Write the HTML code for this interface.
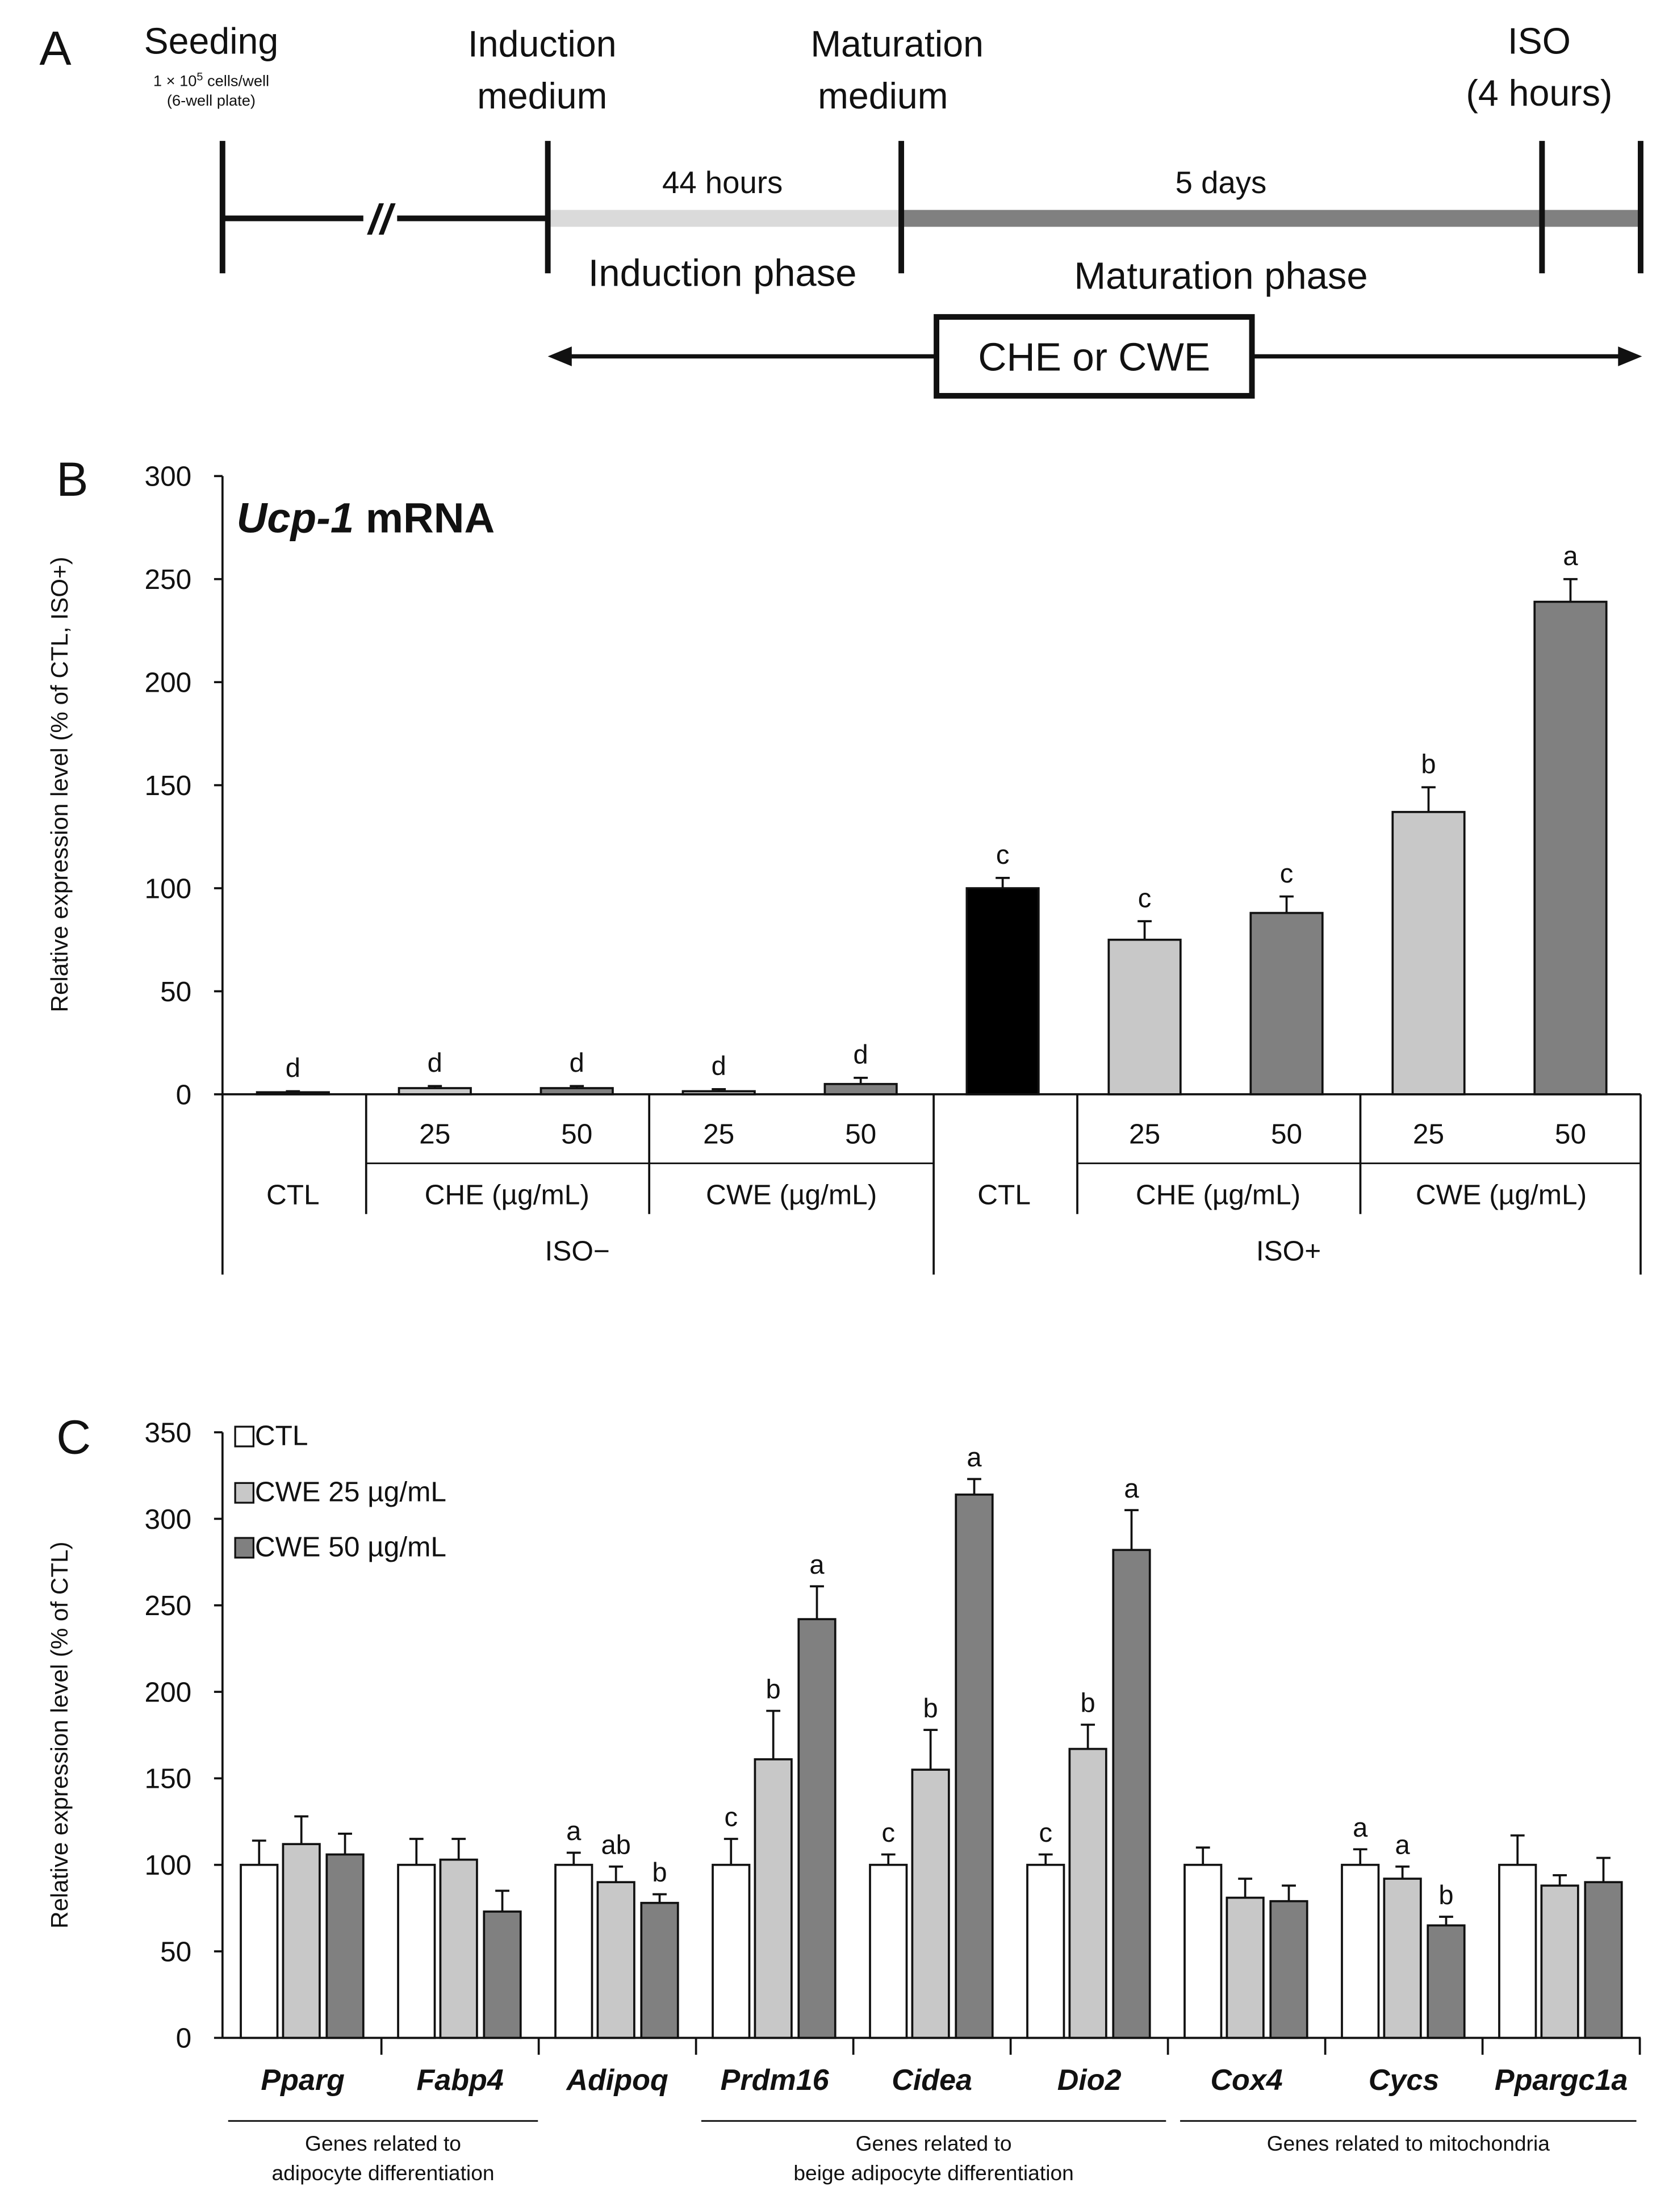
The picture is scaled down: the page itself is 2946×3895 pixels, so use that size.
<!DOCTYPE html>
<html><head><meta charset="utf-8"><style>
html,body{margin:0;padding:0;background:#fff}
svg{display:block;font-family:"Liberation Sans",sans-serif}
</style></head><body>
<svg id="fig" width="2946" height="3895" viewBox="0 0 1188 1570.6" xmlns="http://www.w3.org/2000/svg">
<g fill="#111">
<text x="28" y="46" font-size="34">A</text>
<text x="150" y="38" font-size="26" text-anchor="middle">Seeding</text>
<text x="150" y="61" font-size="11" text-anchor="middle">1 × 10<tspan dy="-4" font-size="8">5</tspan><tspan dy="4"> cells/well</tspan></text>
<text x="150" y="75" font-size="11" text-anchor="middle">(6-well plate)</text>
<text x="385" y="40" font-size="26" text-anchor="middle">Induction</text>
<text x="385" y="77" font-size="26" text-anchor="middle">medium</text>
<text x="637" y="40" font-size="26" text-anchor="middle">Maturation</text>
<text x="627" y="77" font-size="26" text-anchor="middle">medium</text>
<text x="1093" y="38" font-size="26" text-anchor="middle">ISO</text>
<text x="1093" y="75" font-size="26" text-anchor="middle">(4 hours)</text>
<line x1="158" y1="155" x2="389" y2="155" stroke="#111" stroke-width="4"/>
<rect x="258" y="140" width="24" height="30" fill="#fff"/>
<text x="270" y="166" font-size="30" font-style="italic" text-anchor="middle" font-weight="bold">//</text>
<line x1="389" y1="155" x2="640" y2="155" stroke="#dadada" stroke-width="12"/>
<line x1="640" y1="155" x2="1165" y2="155" stroke="#808080" stroke-width="12"/>
<g stroke="#111" stroke-width="4">
<line x1="158" y1="100" x2="158" y2="194"/><line x1="389" y1="100" x2="389" y2="194"/><line x1="640" y1="100" x2="640" y2="194"/><line x1="1095" y1="100" x2="1095" y2="194"/><line x1="1165" y1="100" x2="1165" y2="194"/></g>
<text x="513" y="137" font-size="22" text-anchor="middle">44 hours</text>
<text x="867" y="137" font-size="22" text-anchor="middle">5 days</text>
<text x="513" y="203" font-size="27" text-anchor="middle">Induction phase</text>
<text x="867" y="205" font-size="27" text-anchor="middle">Maturation phase</text>
<line x1="400" y1="253" x2="1155" y2="253" stroke="#111" stroke-width="3"/>
<polygon points="389,253 406,246 406,260"/>
<polygon points="1166,253 1149,246 1149,260"/>
<rect x="665" y="225" width="224" height="56" fill="#fff" stroke="#111" stroke-width="4"/>
<text x="777" y="263" font-size="28" text-anchor="middle">CHE or CWE</text>
</g>
<g id="pb"></g>
<g id="pc"></g>
</svg>
<script>
const bVals=[1,3,3,1.5,5,100,75,88,137,239];
const bErr=[0.5,1,1,1,3,5,9,8,12,11];
const bLetters=["d","d","d","d","d","c","c","c","b","a"];
const bTicks=[0,50,100,150,200,250,300];
const cGenes=["Pparg","Fabp4","Adipoq","Prdm16","Cidea","Dio2","Cox4","Cycs","Ppargc1a"];
const cCTL=[100,100,100,100,100,100,100,100,100];
const cCWE25=[112,103,90,161,155,167,81,92,88];
const cCWE50=[106,73,78,242,314,282,79,65,90];
const cErrCTL=[14,15,7,15,6,6,10,9,17];
const cErr25=[16,12,9,28,23,14,11,7,6];
const cErr50=[12,12,5,19,9,23,9,5,14];
const cLetCTL=["","","a","c","c","c","","a",""];
const cLet25=["","","ab","b","b","b","","a",""];
const cLet50=["","","b","a","a","a","","b",""];
const cTicks=[0,50,100,150,200,250,300,350];
const NS="http://www.w3.org/2000/svg";
function mk(p,t,a){const e=document.createElementNS(NS,t);for(const k in a)e.setAttribute(k,a[k]);p.appendChild(e);return e;}
function txt(p,x,y,s,size,extra){const e=mk(p,"text",Object.assign({x:x,y:y,"font-size":size,"text-anchor":"middle",fill:"#111"},extra||{}));e.textContent=s;return e;}
// Panel B
const pb=document.getElementById("pb");
const yB=v=>777-v*(439/300);
const bX=i=>208+i*100.8;
const bColors=["#fff","#c8c8c8","#808080","#c8c8c8","#808080","#000","#c8c8c8","#808080","#c8c8c8","#808080"];
let t=txt(pb,40,352,"B",34,{"text-anchor":"start"});


t=mk(pb,"text",{x:168,y:378,"font-size":30,"font-weight":"bold",fill:"#111"});t.innerHTML='<tspan font-style="italic">Ucp-1</tspan> mRNA';


t=txt(pb,0,0,"Relative expression level (% of CTL, ISO+)",17,{transform:"translate(48,557) rotate(-90)"});


let ax=mk(pb,"line",{x1:158,y1:yB(0),x2:158,y2:yB(300),stroke:"#111","stroke-width":1.5});


bTicks.forEach(v=>{const l=mk(pb,"line",{x1:152,x2:158,y1:yB(v),y2:yB(v),stroke:"#111","stroke-width":1.5});


const tt=txt(pb,136,yB(v)+7,String(v),20,{"text-anchor":"end"});

});
bVals.forEach((v,i)=>{const x=bX(i),w=51;
const e=mk(pb,"line",{x1:x,x2:x,y1:yB(v),y2:yB(v+bErr[i]),stroke:"#111","stroke-width":1.5});


const c=mk(pb,"line",{x1:x-5,x2:x+5,y1:yB(v+bErr[i]),y2:yB(v+bErr[i]),stroke:"#111","stroke-width":1.5});


const r=mk(pb,"rect",{x:x-w/2,y:yB(v),width:w,height:yB(0)-yB(v),fill:bColors[i],stroke:"#111","stroke-width":1.5});


const l=txt(pb,x,yB(v+bErr[i])-10,bLetters[i],19);

});
const xa=mk(pb,"line",{x1:158,x2:1165,y1:777,y2:777,stroke:"#111","stroke-width":1.5});


[158,260,461,663,765,966,1165].forEach(x=>{const big=(x==158||x==663||x==1165);const l=mk(pb,"line",{x1:x,x2:x,y1:777,y2:big?905:862,stroke:"#111","stroke-width":1.5});

});
[[260,461],[765,966],[966,1165],[461,663]].forEach(s=>{const l=mk(pb,"line",{x1:s[0],x2:s[1],y1:826,y2:826,stroke:"#111","stroke-width":1.2});

});
[[1,"25"],[2,"50"],[3,"25"],[4,"50"],[6,"25"],[7,"50"],[8,"25"],[9,"50"]].forEach(d=>{const tt=txt(pb,bX(d[0]),812,d[1],20);

});
[[208,"CTL"],[360,"CHE (µg/mL)"],[562,"CWE (µg/mL)"],[713,"CTL"],[865,"CHE (µg/mL)"],[1066,"CWE (µg/mL)"]].forEach(d=>{const tt=txt(pb,d[0],855,d[1],20);

});
[[410,"ISO−"],[915,"ISO+"]].forEach(d=>{const tt=txt(pb,d[0],895,d[1],20);

});
// Panel C
const pc=document.getElementById("pc");
const yC=v=>1447-v*(430/350);
const gX=i=>215+i*111.7;
t=txt(pc,40,1032,"C",34,{"text-anchor":"start"});


t=txt(pc,0,0,"Relative expression level (% of CTL)",17,{transform:"translate(48,1232) rotate(-90)"});


ax=mk(pc,"line",{x1:158,y1:yC(0),x2:158,y2:yC(350),stroke:"#111","stroke-width":1.5});


cTicks.forEach(v=>{const l=mk(pc,"line",{x1:152,x2:158,y1:yC(v),y2:yC(v),stroke:"#111","stroke-width":1.5});


const tt=txt(pc,136,yC(v)+7,String(v),20,{"text-anchor":"end"});

});
const series=[[cCTL,cErrCTL,cLetCTL,"#fff",-31],[cCWE25,cErr25,cLet25,"#c8c8c8",-1],[cCWE50,cErr50,cLet50,"#808080",30]];
cGenes.forEach((g,i)=>{series.forEach((s,k)=>{const x=gX(i)+s[4],v=s[0][i],er=s[1][i],w=26;
const e=mk(pc,"line",{x1:x,x2:x,y1:yC(v),y2:yC(v+er),stroke:"#111","stroke-width":1.5});


const c=mk(pc,"line",{x1:x-5,x2:x+5,y1:yC(v+er),y2:yC(v+er),stroke:"#111","stroke-width":1.5});


const r=mk(pc,"rect",{x:x-w/2,y:yC(v),width:w,height:yC(0)-yC(v),fill:s[3],stroke:"#111","stroke-width":1.5});


if(s[2][i]){const l=txt(pc,x,yC(v+er)-9,s[2][i],19);

}});
const lab=txt(pc,gX(i),1484,g,21,{"font-weight":"bold","font-style":"italic"});


const tk=mk(pc,"line",{x1:gX(i)+55.85,x2:gX(i)+55.85,y1:1447,y2:1459,stroke:"#111","stroke-width":1.5});

});
const xc=mk(pc,"line",{x1:158,x2:1165,y1:1447,y2:1447,stroke:"#111","stroke-width":1.5});


[[162,382,"Genes related to","adipocyte differentiation"],[498,828,"Genes related to","beige adipocyte differentiation"],[838,1162,"Genes related to mitochondria",""]].forEach(d=>{
const l=mk(pc,"line",{x1:d[0],x2:d[1],y1:1506,y2:1506,stroke:"#111","stroke-width":1.2});


const a=txt(pc,(d[0]+d[1])/2,1527,d[2],15);


if(d[3]){const b=txt(pc,(d[0]+d[1])/2,1548,d[3],15);

}});
[["CTL","#fff",1026],["CWE 25 µg/mL","#c8c8c8",1066],["CWE 50 µg/mL","#808080",1105]].forEach(d=>{
const r=mk(pc,"rect",{x:167,y:d[2]-13,width:13,height:14,fill:d[1],stroke:"#111","stroke-width":1.3});


const tt=txt(pc,181,d[2],d[0],20,{"text-anchor":"start"});

});
</script>
</body></html>
